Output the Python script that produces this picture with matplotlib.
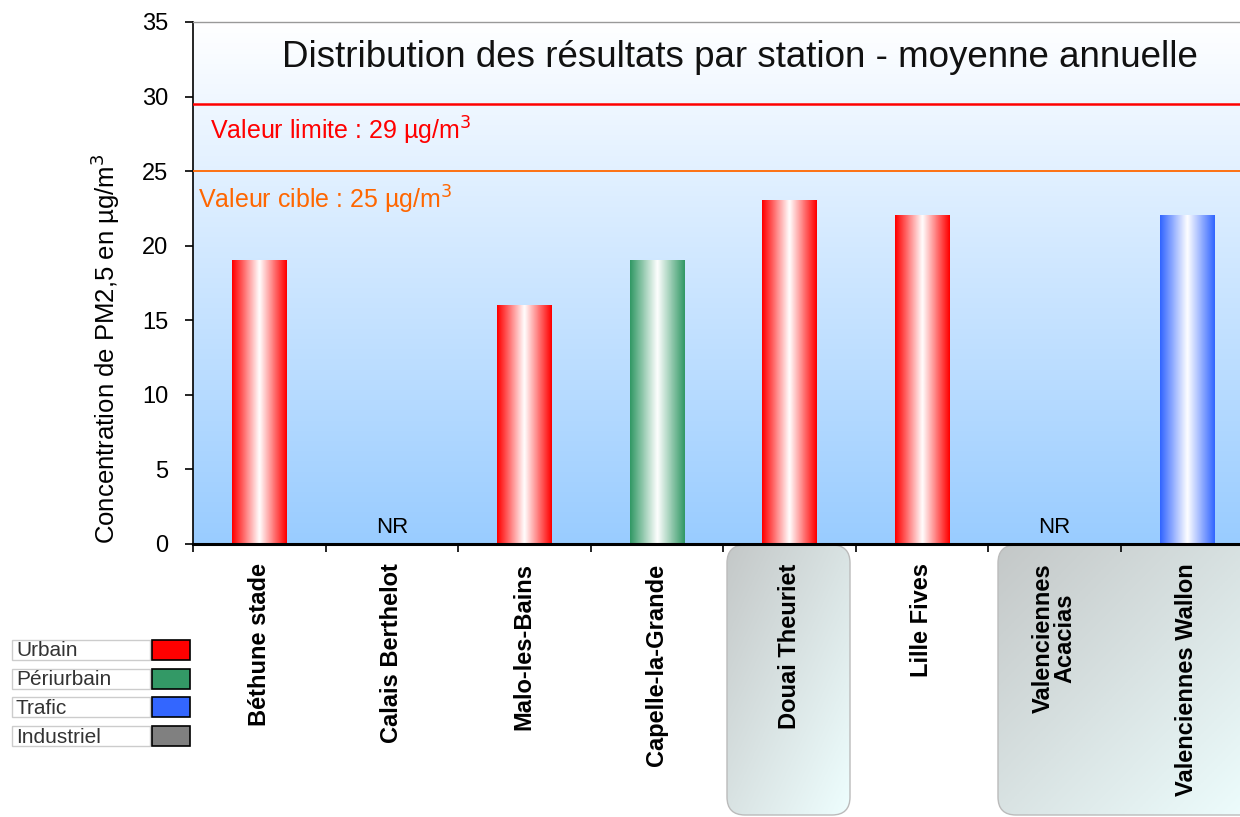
import numpy as np
import matplotlib.pyplot as plt
from matplotlib.colors import LinearSegmentedColormap
from matplotlib.patches import Rectangle, FancyBboxPatch

stations = ["Béthune stade", "Calais Berthelot", "Malo-les-Bains", "Capelle-la-Grande",
            "Douai Theuriet", "Lille Fives", "Valenciennes\nAcacias", "Valenciennes Wallon"]
values = [19, None, 16, 19, 23, 22, None, 22]
types = ["Urbain", "Urbain", "Urbain", "Périurbain", "Urbain", "Urbain", "Urbain", "Trafic"]

legend_labels = ["Urbain", "Périurbain", "Trafic", "Industriel"]
type_colors = {"Urbain": "#ff0000", "Périurbain": "#339966", "Trafic": "#3366ff", "Industriel": "#808080"}

limit_value = 29.5   # line as drawn in the original
target_value = 25

plt.rcParams['font.family'] = ['Liberation Sans', 'DejaVu Sans']

fig = plt.figure(figsize=(12.4, 8.17), dpi=100)
fig.patch.set_facecolor('white')

# overlay in pixel coords for decorations (boxes behind labels, legend table)
bg = fig.add_axes([0, 0, 1, 1], zorder=0)
bg.set_xlim(0, 1240)
bg.set_ylim(817, 0)
bg.axis('off')

box_cmap = LinearSegmentedColormap.from_list('box', ['#c4c8c8', '#eefefe'])
grad = np.add.outer(np.linspace(0, 1, 100), np.linspace(0, 1, 100)) / 2
for (x0, x1) in [(727, 850), (998, 1262)]:
    p = FancyBboxPatch((x0, 545), x1 - x0, 270, boxstyle="round,pad=0,rounding_size=18",
                       facecolor='none', edgecolor='#bbbbbb', lw=1.0)
    bg.add_patch(p)
    im = bg.imshow(grad, cmap=box_cmap, extent=[x0, x1, 815, 545], aspect='auto', zorder=0)
    im.set_clip_path(p)

row_h = 20
for i, lab in enumerate(legend_labels):
    y = 640 + i * 28.7
    bg.add_patch(Rectangle((12, y), 138, row_h, facecolor='white', edgecolor='#cccccc', lw=1))
    bg.add_patch(Rectangle((152, y), 38, row_h, facecolor=type_colors[lab], edgecolor='black', lw=1.2))
    bg.text(16, y + row_h / 2 + 1, lab, fontsize=15, color='#333333', va='center', ha='left')

ax = fig.add_axes([193 / 1240, 273 / 817, 1060 / 1240, 522 / 817], zorder=1)
n = len(stations)
ax.set_xlim(0, n)
ax.set_ylim(0, 35)

# background gradient, white at top to light blue at bottom
sky = LinearSegmentedColormap.from_list('sky', ['#99ccff', '#ffffff'])
ax.imshow(np.linspace(0, 1, 256).reshape(-1, 1)[::-1], cmap=sky, extent=[0, n, 0, 35],
          aspect='auto', zorder=0)

bw = 0.41
for i, (v, t) in enumerate(zip(values, types)):
    cx = i + 0.5
    if v is None:
        ax.text(cx, 0.4, "NR", ha='center', va='bottom', fontsize=16, color='black')
        continue
    cmap = LinearSegmentedColormap.from_list(t, [type_colors[t], '#ffffff', type_colors[t]])
    ax.imshow(np.linspace(0, 1, 64).reshape(1, -1), cmap=cmap, aspect='auto',
              extent=[cx - bw / 2, cx + bw / 2, 0, v], zorder=2)

ax.axhline(limit_value, color='#ff0000', lw=1.8, zorder=3)
ax.axhline(target_value, color='#ff6600', lw=1.3, zorder=3)
ax.text(0.13, 27.7, "Valeur limite : 29 µg/m$^3$", color='#ff0000', fontsize=18, va='center')
ax.text(0.04, 23.1, "Valeur cible : 25 µg/m$^3$", color='#ff6600', fontsize=18, va='center')

ax.text(4.13, 32.6, "Distribution des résultats par station - moyenne annuelle",
        ha='center', va='center', fontsize=26.5, color='#111111')

ax.set_yticks(range(0, 36, 5))
ax.tick_params(axis='y', labelsize=17, length=6, width=1.2, direction='out', pad=12)
ax.set_xticks(np.arange(0, n + 1))
ax.set_xticklabels([])
ax.tick_params(axis='x', which='major', length=6, width=1.2, direction='out')
ax.set_xticks(np.arange(n) + 0.5, minor=True)
ax.set_xticklabels(stations, minor=True, rotation=90, fontsize=17, fontweight='bold',
                   va='top', ha='center', linespacing=0.95)
ax.tick_params(axis='x', which='minor', length=0, pad=14)

ax.set_ylabel("Concentration de PM2,5 en µg/m$^3$", fontsize=18.5)
ax.yaxis.set_label_coords(-0.067, 0.374)

ax.spines['left'].set_linewidth(1.2)
ax.spines['bottom'].set_linewidth(2.2)
ax.spines['top'].set_color('#999999')
ax.spines['top'].set_linewidth(1.0)
ax.spines['right'].set_visible(False)

fig.savefig("out.png", dpi=100)
